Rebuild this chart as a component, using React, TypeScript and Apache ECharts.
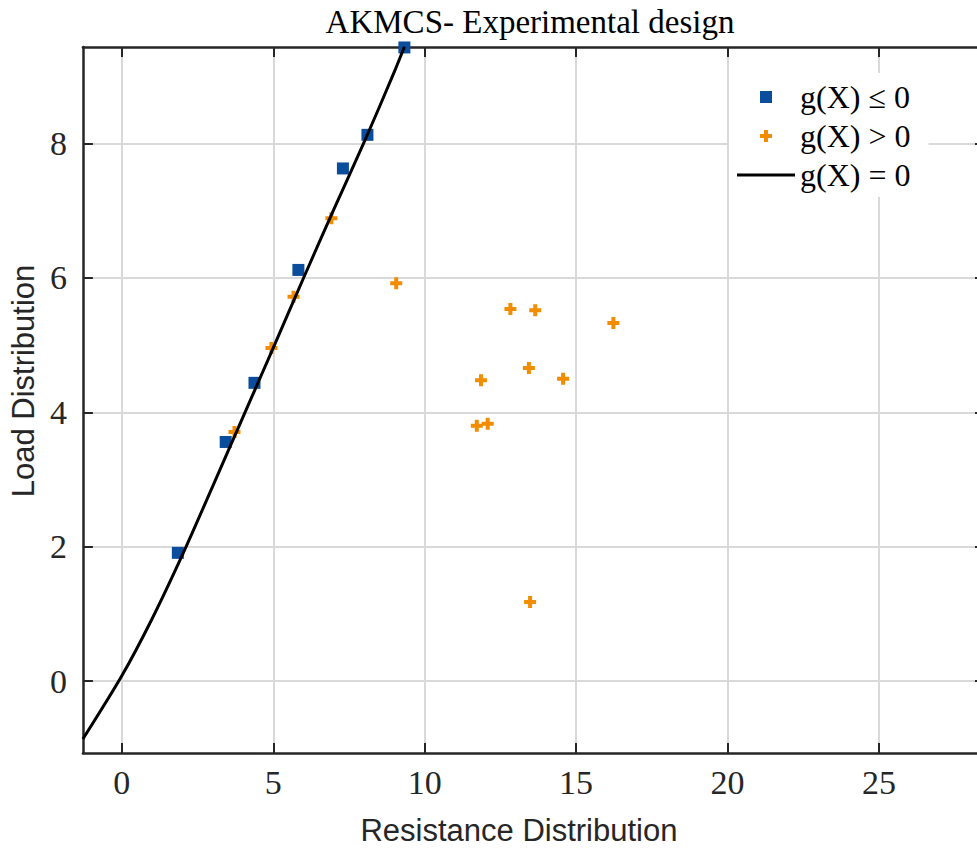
import React, { useEffect, useRef } from 'react';
import * as echarts from 'echarts';

const titleText = 'AKMCS- Experimental design';
const xName = 'Resistance Distribution';
const yName = 'Load Distribution';
const xTicks = [0, 5, 10, 15, 20, 25];
const yTicks = [0, 2, 4, 6, 8];
const legendNames = ['g(X) \u2264 0', 'g(X) > 0', 'g(X) = 0'];

// g(X) <= 0 samples
const failX = [1.85, 3.43, 4.38, 5.83, 7.30, 8.11, 9.33];
const failY = [1.91, 3.56, 4.44, 6.12, 7.63, 8.13, 9.43];
// g(X) > 0 samples
const safeX = [3.72, 4.94, 5.67, 6.92, 9.06, 12.83, 13.65, 16.23, 13.44, 11.86, 14.57, 11.72, 12.08, 13.48];
const safeY = [3.71, 4.96, 5.72, 6.89, 5.92, 5.54, 5.52, 5.33, 4.66, 4.48, 4.50, 3.80, 3.83, 1.18];
// limit state g(X) = 0
const limitX = [-1.285, 0, 1, 2, 3, 4, 5, 6, 7, 8, 9, 9.33];
const limitY = [-0.86, 0.08, 0.93, 1.88, 2.9, 3.93, 4.96, 6.0, 7.02, 8.02, 9.07, 9.44];

const X_MIN = -1.285;
const X_MAX = 28.5;
const Y_MIN = -1.068;
const Y_MAX = 9.437;

const BLUE = '#0a4d9c';
const ORANGE = '#f28c00';
const AX = '#262626';
const GRID = '#d9d9d9';
const PLUS = 'path://M4,0H8V4H12V8H8V12H4V8H0V4H4Z';
const SQUARE = 'path://M0,0H12V12H0Z';
const BAR = 'path://M0,0H58V3H0Z';

export default function App() {
  const ref = useRef<HTMLDivElement>(null);
  useEffect(() => {
    const chart = echarts.init(ref.current!, null, { renderer: 'svg' });
    const serif = 'Liberation Serif';
    const sans = 'Liberation Sans';
    const tick = { show: true, inside: true, length: 10, lineStyle: { color: AX, width: 2 } };
    const axisLine = { show: true, onZero: false, lineStyle: { color: AX, width: 2.5 } };
    chart.setOption({
      animation: false,
      backgroundColor: '#fff',
      title: {
        text: titleText,
        left: 525,
        top: 0,
        textAlign: 'center',
        textStyle: { fontFamily: serif, fontSize: 33, fontWeight: 'normal', color: '#000' },
      },
      legend: {
        orient: 'vertical',
        left: 729,
        top: 73,
        itemWidth: 58,
        itemHeight: 12,
        itemGap: 7,
        padding: [8, 18, 6, 8],
        backgroundColor: '#fff',
        textStyle: { fontFamily: serif, fontSize: 32, color: '#000', lineHeight: 32 },
        data: [
          { name: legendNames[0], icon: SQUARE },
          { name: legendNames[1], icon: PLUS },
          { name: legendNames[2], icon: BAR },
        ],
      },
      grid: { left: 81, right: 0, top: 47, bottom: 98, containLabel: false },
      xAxis: [
        {
          type: 'value',
          min: X_MIN,
          max: X_MAX,
          position: 'bottom',
          axisLine,
          axisTick: { ...tick, customValues: xTicks },
          axisLabel: { customValues: xTicks, margin: 12, fontFamily: serif, fontSize: 34, color: AX },
          splitLine: { show: true, lineStyle: { color: GRID, width: 2 } },
          name: xName,
          nameLocation: 'middle',
          nameGap: 62,
          nameTextStyle: { fontFamily: sans, fontSize: 31, color: AX, padding: [0, 30, 0, 0] },
        },
        {
          type: 'value',
          min: X_MIN,
          max: X_MAX,
          position: 'top',
          axisLine,
          axisTick: { ...tick, customValues: xTicks },
          axisLabel: { show: false },
          splitLine: { show: false },
        },
      ],
      yAxis: [
        {
          type: 'value',
          min: Y_MIN,
          max: Y_MAX,
          position: 'left',
          axisLine,
          axisTick: { ...tick, customValues: yTicks },
          axisLabel: { customValues: yTicks, margin: 16, fontFamily: serif, fontSize: 34, color: AX },
          splitLine: { show: true, lineStyle: { color: GRID, width: 2 } },
          name: yName,
          nameLocation: 'middle',
          nameGap: 42,
          nameTextStyle: { fontFamily: sans, fontSize: 31, color: AX, padding: [0, 0, 0, 38] },
        },
        {
          type: 'value',
          min: Y_MIN,
          max: Y_MAX,
          position: 'right',
          axisLine,
          axisTick: { ...tick, customValues: yTicks },
          axisLabel: { show: false },
          splitLine: { show: false },
        },
      ],
      series: [
        {
          name: legendNames[0],
          type: 'scatter',
          symbol: 'rect',
          symbolSize: 12,
          itemStyle: { color: BLUE, opacity: 1 },
          data: failX.map((x, i) => [x, failY[i]]),
          z: 3,
        },
        {
          name: legendNames[1],
          type: 'scatter',
          symbol: PLUS,
          symbolSize: 12,
          itemStyle: { color: ORANGE, opacity: 1 },
          data: safeX.map((x, i) => [x, safeY[i]]),
          z: 3,
        },
        {
          name: legendNames[2],
          type: 'line',
          symbol: 'none',
          showSymbol: false,
          smooth: 0.3,
          lineStyle: { color: '#000', width: 3 },
          itemStyle: { color: '#000' },
          data: limitX.map((x, i) => [x, limitY[i]]),
          z: 4,
        },
      ],
    });
    return () => chart.dispose();
  }, []);
  return (
    <div style={{ position: 'fixed', left: 0, top: 0, width: 977, height: 851, overflow: 'hidden', background: '#fff' }}>
      <div ref={ref} style={{ width: 985, height: 851 }} />
    </div>
  );
}
